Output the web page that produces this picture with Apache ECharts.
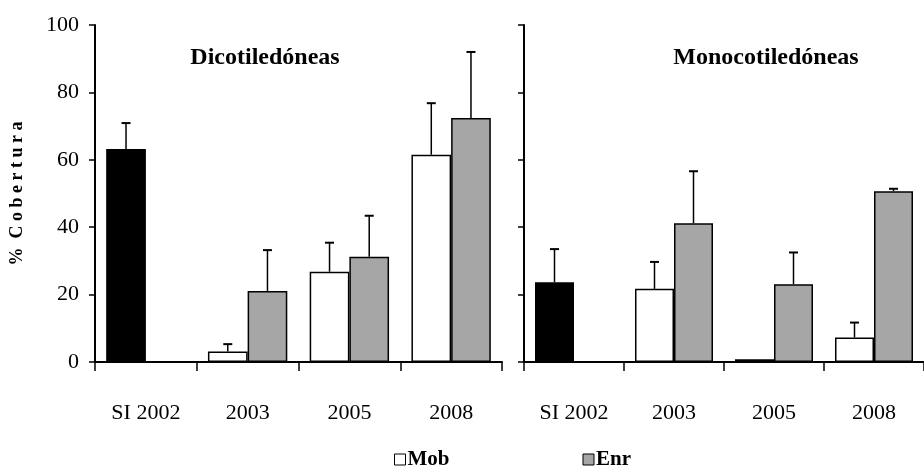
<!DOCTYPE html>
<html>
<head>
<meta charset="utf-8">
<script src="https://cdn.jsdelivr.net/npm/echarts@6/dist/echarts.min.js"></script>
<style>
  html, body { margin: 0; padding: 0; background: #fff; }
  #chart { width: 924px; height: 473px; }
</style>
</head>
<body>
<div id="chart"></div>
<script>
// Categories shared by both panels
const categories = ['SI 2002', '2003', '2005', '2008'];

// Dicotyledons: mean cover (%) and upper error
const dicotMob    = [63.2, 3.1, 26.8, 61.5];
const dicotMobErr = [7.7, 2.2, 8.6, 15.3];
const dicotEnr    = [null, 21.1, 31.2, 72.4];
const dicotEnrErr = [null, 12.1, 12.2, 19.6];

// Monocotyledons: mean cover (%) and upper error
const monoMob    = [23.7, 21.7, 0.8, 7.3];
const monoMobErr = [9.8, 8.0, 0, 4.4];
const monoEnr    = [null, 41.2, 23.1, 50.7];
const monoEnrErr = [null, 15.4, 9.4, 0.7];

// Y axis ticks
const yTicks = [0, 20, 40, 60, 80, 100];

const FONT = 'Liberation Serif';
const GRAY = '#a6a6a6';
const CAT_GAP = 0.22;

// First bar (SI 2002) is drawn black
function mobData(vals) {
  return vals.map((v, i) => i === 0 ? { value: v, itemStyle: { color: '#000' } } : v);
}

function errData(vals, errs) {
  return vals.map((v, i) => [i, v, errs[i]]);
}

// Upper error whisker with cap, centred on the Mob (-1) or Enr (+1) bar
function errRenderer(side) {
  return function (params, api) {
    const cat = api.value(0), v = api.value(1), e = api.value(2);
    if (v == null || isNaN(v) || !e) return null;
    const base = api.coord([cat, v]);
    const top = api.coord([cat, v + e]);
    const band = api.size([1, 0])[0];
    const bw = band * (1 - CAT_GAP) / 2;
    const x = base[0] + side * bw / 2;
    const cap = 4.5;
    return {
      type: 'group',
      children: [
        { type: 'line', shape: { x1: x, y1: base[1], x2: x, y2: top[1] }, style: { stroke: '#000', lineWidth: 1.5 } },
        { type: 'line', shape: { x1: x - cap, y1: top[1], x2: x + cap, y2: top[1] }, style: { stroke: '#000', lineWidth: 2 } }
      ]
    };
  };
}

function xAxis(gridIndex) {
  return {
    type: 'category', gridIndex, data: categories,
    axisLine: { lineStyle: { color: '#000', width: 2 } },
    axisTick: { show: true, length: 9, lineStyle: { color: '#000', width: 1.5 } },
    axisLabel: { color: '#000', fontFamily: FONT, fontSize: 22, margin: 40 }
  };
}

function yAxis(gridIndex, showLabels) {
  return {
    type: 'value', gridIndex, min: 0, max: 100, interval: 20,
    splitLine: { show: false },
    axisLine: { show: true, lineStyle: { color: '#000', width: 2 } },
    axisTick: { show: true, length: 6, lineStyle: { color: '#000', width: 1.5 } },
    axisLabel: {
      show: showLabels, color: '#000', fontFamily: FONT, fontSize: 22, margin: 16,
      formatter: v => yTicks.includes(v) ? String(v) : ''
    }
  };
}

const barBase = {
  type: 'bar', barGap: '0%', barCategoryGap: (CAT_GAP * 100) + '%',
  itemStyle: { borderColor: '#000', borderWidth: 1.5 }
};

const chart = echarts.init(document.getElementById('chart'));
chart.setOption({
  animation: false,
  backgroundColor: '#fff',
  title: [
    { text: 'Dicotiledóneas', left: 260, top: 41, textAlign: 'center',
      textStyle: { fontFamily: FONT, fontSize: 24, fontWeight: 'bold', color: '#000' } },
    { text: 'Monocotiledóneas', left: 761, top: 41, textAlign: 'center',
      textStyle: { fontFamily: FONT, fontSize: 24, fontWeight: 'bold', color: '#000' } }
  ],
  legend: {
    data: ['Mob', 'Enr'], left: 389, top: 444, itemGap: 133,
    icon: 'rect', itemWidth: 11, itemHeight: 11,
    itemStyle: { borderColor: '#000', borderWidth: 1 },
    textStyle: { fontFamily: FONT, fontSize: 21, fontWeight: 'bold', color: '#000', padding: [0, 0, 0, -3] }
  },
  grid: [
    { left: 95, top: 25, width: 407, height: 337 },
    { left: 524, top: 25, width: 408, height: 337 }
  ],
  xAxis: [xAxis(0), xAxis(1)],
  yAxis: [
    Object.assign(yAxis(0, true), {
      name: '%  C o b e r t u r a', nameLocation: 'middle', nameGap: 69, nameRotate: 90,
      nameTextStyle: { fontFamily: FONT, fontSize: 18, fontWeight: 'bold', color: '#000' }
    }),
    yAxis(1, false)
  ],
  series: [
    Object.assign({}, barBase, { name: 'Mob', xAxisIndex: 0, yAxisIndex: 0, color: '#fff', data: mobData(dicotMob) }),
    Object.assign({}, barBase, { name: 'Enr', xAxisIndex: 0, yAxisIndex: 0, color: GRAY, data: dicotEnr }),
    Object.assign({}, barBase, { name: 'Mob', xAxisIndex: 1, yAxisIndex: 1, color: '#fff', data: mobData(monoMob) }),
    Object.assign({}, barBase, { name: 'Enr', xAxisIndex: 1, yAxisIndex: 1, color: GRAY, data: monoEnr }),
    { type: 'custom', xAxisIndex: 0, yAxisIndex: 0, renderItem: errRenderer(-1), data: errData(dicotMob, dicotMobErr), z: 5 },
    { type: 'custom', xAxisIndex: 0, yAxisIndex: 0, renderItem: errRenderer(1), data: errData(dicotEnr, dicotEnrErr), z: 5 },
    { type: 'custom', xAxisIndex: 1, yAxisIndex: 1, renderItem: errRenderer(-1), data: errData(monoMob, monoMobErr), z: 5 },
    { type: 'custom', xAxisIndex: 1, yAxisIndex: 1, renderItem: errRenderer(1), data: errData(monoEnr, monoEnrErr), z: 5 }
  ]
});
</script>
</body>
</html>
